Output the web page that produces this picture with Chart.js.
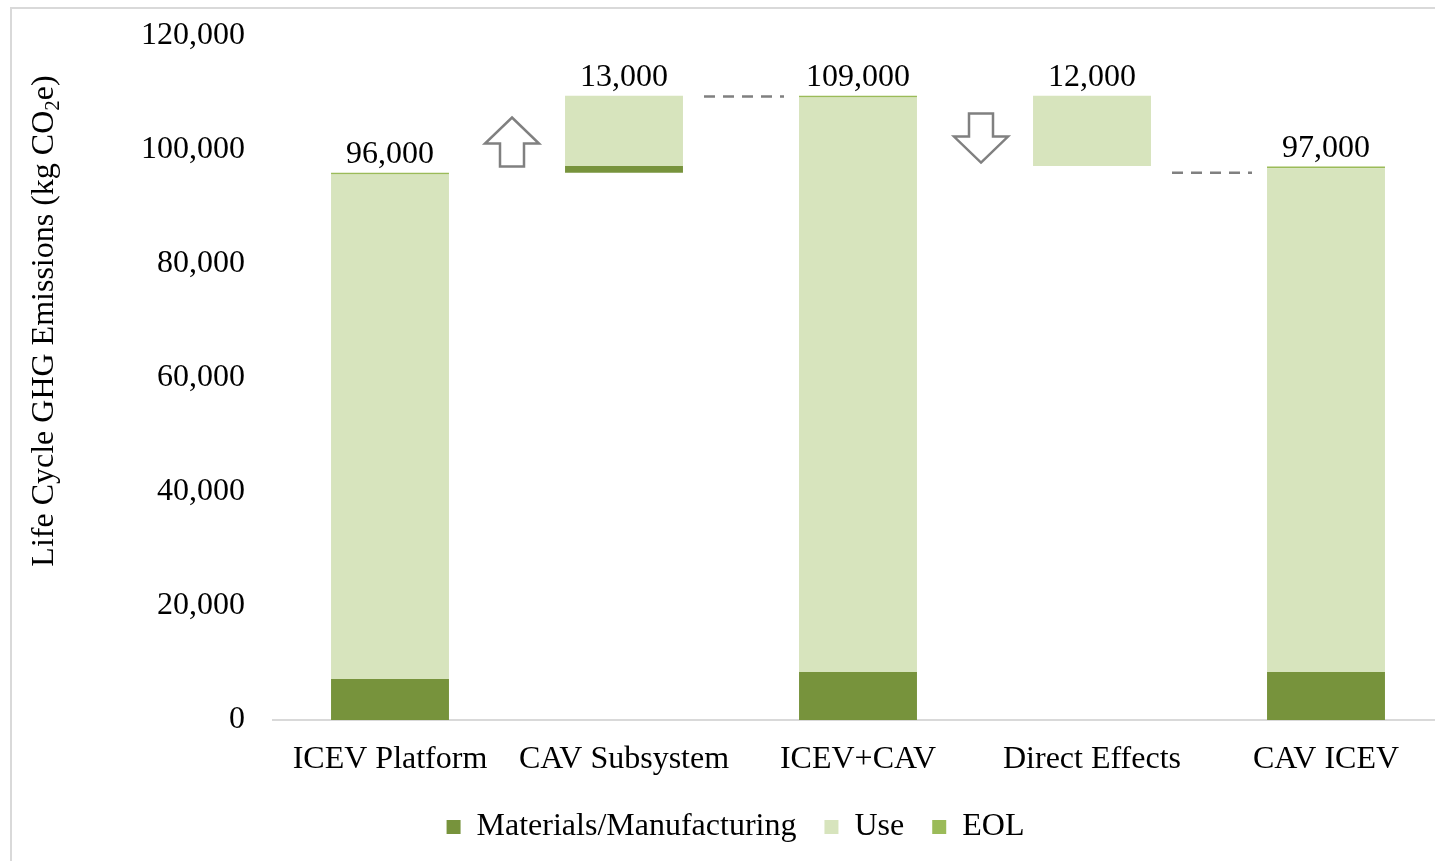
<!DOCTYPE html>
<html lang="en">
<head>
    <meta charset="UTF-8">
    <title>Life Cycle GHG Emissions</title>
    <script src="https://cdn.jsdelivr.net/npm/chart.js"></script>
    <style>
        body { margin: 0; overflow: hidden; background: #fff; }
        /* light grey frame around the chart, like the Excel chart border */
        .frame { position: absolute; left: 10px; top: 7px; width: 1500px; height: 900px; border: 2px solid #d9d9d9; }
        canvas { position: absolute; left: 0; top: 0; }
    </style>
</head>
<body>
    <div class="frame"></div>
    <canvas id="ghgChart" width="1470" height="861"></canvas>

    <script>
        // Categories along the x axis
        const categories = ["ICEV Platform", "CAV Subsystem", "ICEV+CAV", "Direct Effects", "CAV ICEV"];

        // Invisible base so the two change bars float (waterfall style)
        const baseValues = [0, 96000, 0, 97200, 0];
        const materialsValues = [7200, 1200, 8400, 0, 8400];
        const useValues = [88500, 12300, 100800, 12300, 88400];
        const eolValues = [300, 0, 300, 0, 300];

        // Labels written above each bar
        const totalLabels = ["96,000", "13,000", "109,000", "12,000", "97,000"];

        // Y axis ticks
        const yMin = 0;
        const yMax = 120000;
        const yStep = 20000;

        // Levels of the dashed connector lines (between bar 2-3 and bar 4-5)
        const connectorLevels = [109400, 96000];

        const FONT = "'Liberation Serif', 'Times New Roman', serif";
        const FONT_SIZE = 32;

        // Plugin to draw the total labels, arrows, dashed lines and the y title
        const extrasPlugin = {
            id: "extras",
            afterDatasetsDraw(chart) {
                const ctx = chart.ctx;
                const x = chart.scales.x;
                const y = chart.scales.y;

                // labels above the bars
                ctx.save();
                ctx.font = FONT_SIZE + "px " + FONT;
                ctx.fillStyle = "#000";
                ctx.textAlign = "center";
                ctx.textBaseline = "alphabetic";
                categories.forEach((c, i) => {
                    const top = baseValues[i] + materialsValues[i] + useValues[i] + eolValues[i];
                    ctx.fillText(totalLabels[i], x.getPixelForValue(i), y.getPixelForValue(top) - 10);
                });
                ctx.restore();

                // dashed connector lines
                ctx.save();
                ctx.strokeStyle = "#808080";
                ctx.lineWidth = 2.5;
                ctx.setLineDash([11, 8]);
                [[1, 2], [3, 4]].forEach((pair, k) => {
                    const mid = (x.getPixelForValue(pair[0]) + x.getPixelForValue(pair[1])) / 2 + 3;
                    const py = y.getPixelForValue(connectorLevels[k]);
                    ctx.beginPath();
                    ctx.moveTo(mid - 40, py);
                    ctx.lineTo(mid + 40, py);
                    ctx.stroke();
                });
                ctx.restore();

                // block arrows (outline only)
                function arrow(cx, cy, dir) {
                    const headW = 27, shaftW = 12, headH = 26, total = 49;
                    const t = cy - dir * total / 2;          // tip
                    const hb = t + dir * headH;              // head base
                    const b = cy + dir * total / 2;          // shaft end
                    ctx.beginPath();
                    ctx.moveTo(cx, t);
                    ctx.lineTo(cx + headW, hb);
                    ctx.lineTo(cx + shaftW, hb);
                    ctx.lineTo(cx + shaftW, b);
                    ctx.lineTo(cx - shaftW, b);
                    ctx.lineTo(cx - shaftW, hb);
                    ctx.lineTo(cx - headW, hb);
                    ctx.closePath();
                    ctx.fillStyle = "#fff";
                    ctx.fill();
                    ctx.stroke();
                }
                ctx.save();
                ctx.strokeStyle = "#808080";
                ctx.lineWidth = 2.5;
                ctx.lineJoin = "miter";
                arrow((x.getPixelForValue(0) + x.getPixelForValue(1)) / 2 + 5, y.getPixelForValue(101400), 1);
                arrow((x.getPixelForValue(2) + x.getPixelForValue(3)) / 2 + 6, y.getPixelForValue(102100), -1);
                ctx.restore();

                // rotated y axis title with subscript 2
                ctx.save();
                ctx.translate(53, 321);
                ctx.rotate(-Math.PI / 2);
                ctx.fillStyle = "#000";
                ctx.textBaseline = "alphabetic";
                ctx.textAlign = "left";
                const part1 = "Life Cycle GHG Emissions (kg CO";
                const part2 = "2";
                const part3 = "e)";
                ctx.font = FONT_SIZE + "px " + FONT;
                const w1 = ctx.measureText(part1).width;
                const w3 = ctx.measureText(part3).width;
                ctx.font = "21px " + FONT;
                const w2 = ctx.measureText(part2).width;
                let sx = -(w1 + w2 + w3) / 2;
                ctx.font = FONT_SIZE + "px " + FONT;
                ctx.fillText(part1, sx, 0);
                sx += w1;
                ctx.font = "21px " + FONT;
                ctx.fillText(part2, sx, 6);
                sx += w2;
                ctx.font = FONT_SIZE + "px " + FONT;
                ctx.fillText(part3, sx, 0);
                ctx.restore();
            }
        };

        const ctx = document.getElementById("ghgChart").getContext("2d");
        new Chart(ctx, {
            type: "bar",
            data: {
                labels: categories,
                datasets: [
                    { label: "base", data: baseValues, backgroundColor: "rgba(0,0,0,0)" },
                    { label: "Materials/Manufacturing", data: materialsValues, backgroundColor: "#77933C" },
                    { label: "Use", data: useValues, backgroundColor: "#D7E4BD" },
                    { label: "EOL", data: eolValues, backgroundColor: "#9BBB59" }
                ]
            },
            options: {
                responsive: false,
                animation: false,
                events: [],
                datasets: { bar: { barPercentage: 1, categoryPercentage: 0.504, borderWidth: 0 } },
                layout: { padding: { top: 36, left: 28, right: 27, bottom: 8 } },
                scales: {
                    x: {
                        stacked: true,
                        grid: { display: false, drawTicks: false },
                        border: { display: true, color: "#d9d9d9", width: 2 },
                        ticks: { color: "#000", padding: 20, font: { family: FONT, size: FONT_SIZE } },
                        afterFit: s => { s.height = 63; s.paddingLeft = 0; s.paddingRight = 0; }
                    },
                    y: {
                        stacked: true,
                        min: yMin,
                        max: yMax,
                        grid: { display: false, drawTicks: false },
                        border: { display: false },
                        ticks: {
                            stepSize: yStep,
                            padding: 28,
                            color: "#000",
                            font: { family: FONT, size: FONT_SIZE },
                            callback: v => v.toLocaleString("en-US")
                        },
                        afterFit: s => { s.width = 245; s.paddingTop = 0; s.paddingBottom = 0; }
                    }
                },
                plugins: {
                    legend: {
                        position: "bottom",
                        labels: {
                            color: "#000",
                            boxWidth: 14,
                            boxHeight: 14,
                            padding: 28,
                            font: { family: FONT, size: FONT_SIZE },
                            filter: item => item.datasetIndex > 0
                        }
                    },
                    tooltip: { enabled: false }
                }
            },
            plugins: [extrasPlugin]
        });
    </script>
</body>
</html>
